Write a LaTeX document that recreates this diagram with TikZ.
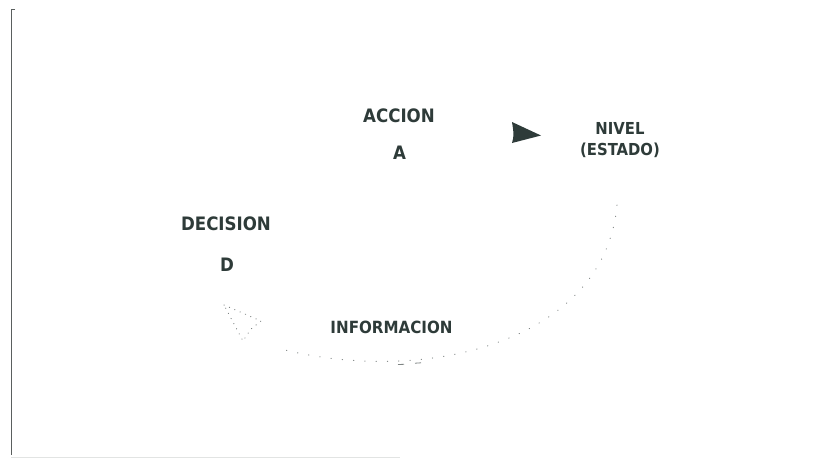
\documentclass[tikz,border=0pt]{standalone}
\usepackage{fontspec}
\setmainfont{DejaVu Sans Condensed}
\begin{document}
\begin{tikzpicture}[x=1pt,y=-1pt,
  lbl/.style={inner sep=0pt, text=ink, font=\bfseries\fontsize{18.5}{20}\selectfont},
  small/.style={inner sep=0pt, text=ink, font=\bfseries\fontsize{16.5}{20.5}\selectfont, align=center},
  dots/.style={draw=dotgrey, line width=1pt, line cap=round, dash pattern=on 0.3pt off 11pt}]
\definecolor{ink}{HTML}{2E3B39}
\definecolor{dotgrey}{HTML}{7E8483}
\definecolor{frame}{HTML}{5A5F5E}
\definecolor{faint}{HTML}{E2E4E3}
\useasboundingbox (0,0) rectangle (814,459);
\fill[white] (0,0) rectangle (814,459);

% frame edges
\draw[frame, line width=1.2pt] (15,9.5) -- (11.5,9.5) -- (11.5,455);
\draw[faint, line width=1pt] (11,457.5) -- (400,457.5);

% labels
\node[lbl] (accion) at (399,115.5) {ACCION};
\node[lbl] (a) at (399.5,152.5) {A};
\node[small] (nivel) at (620,140) {NIVEL\\(ESTADO)};
\node[lbl] (decision) at (226,223.5) {DECISION};
\node[lbl] (d) at (227,265) {D};
\node[lbl, font=\bfseries\fontsize{16.8}{20}\selectfont] (info) at (391.5,327.5) {INFORMACION};

% flow arrowhead from action to level
\fill[ink] (512,122) -- (541,135.5) -- (512,143) .. controls (514,135) .. cycle;

% information loop back to the decision
\coordinate (loopstart) at (617,205);
\coordinate (loopend) at (285,350);
\draw[dots] (loopstart) .. controls (605,340) and (430,385) .. (loopend);
\draw[dotgrey, line width=0.8pt] (398,364.5) -- (404,364.3) (415,363.2) -- (421,362.8);
\draw[dots, dash pattern=on 0.3pt off 5.5pt] (224,305) -- (261,321) -- (251,329) -- (243,341) -- cycle;
\end{tikzpicture}
\end{document}
